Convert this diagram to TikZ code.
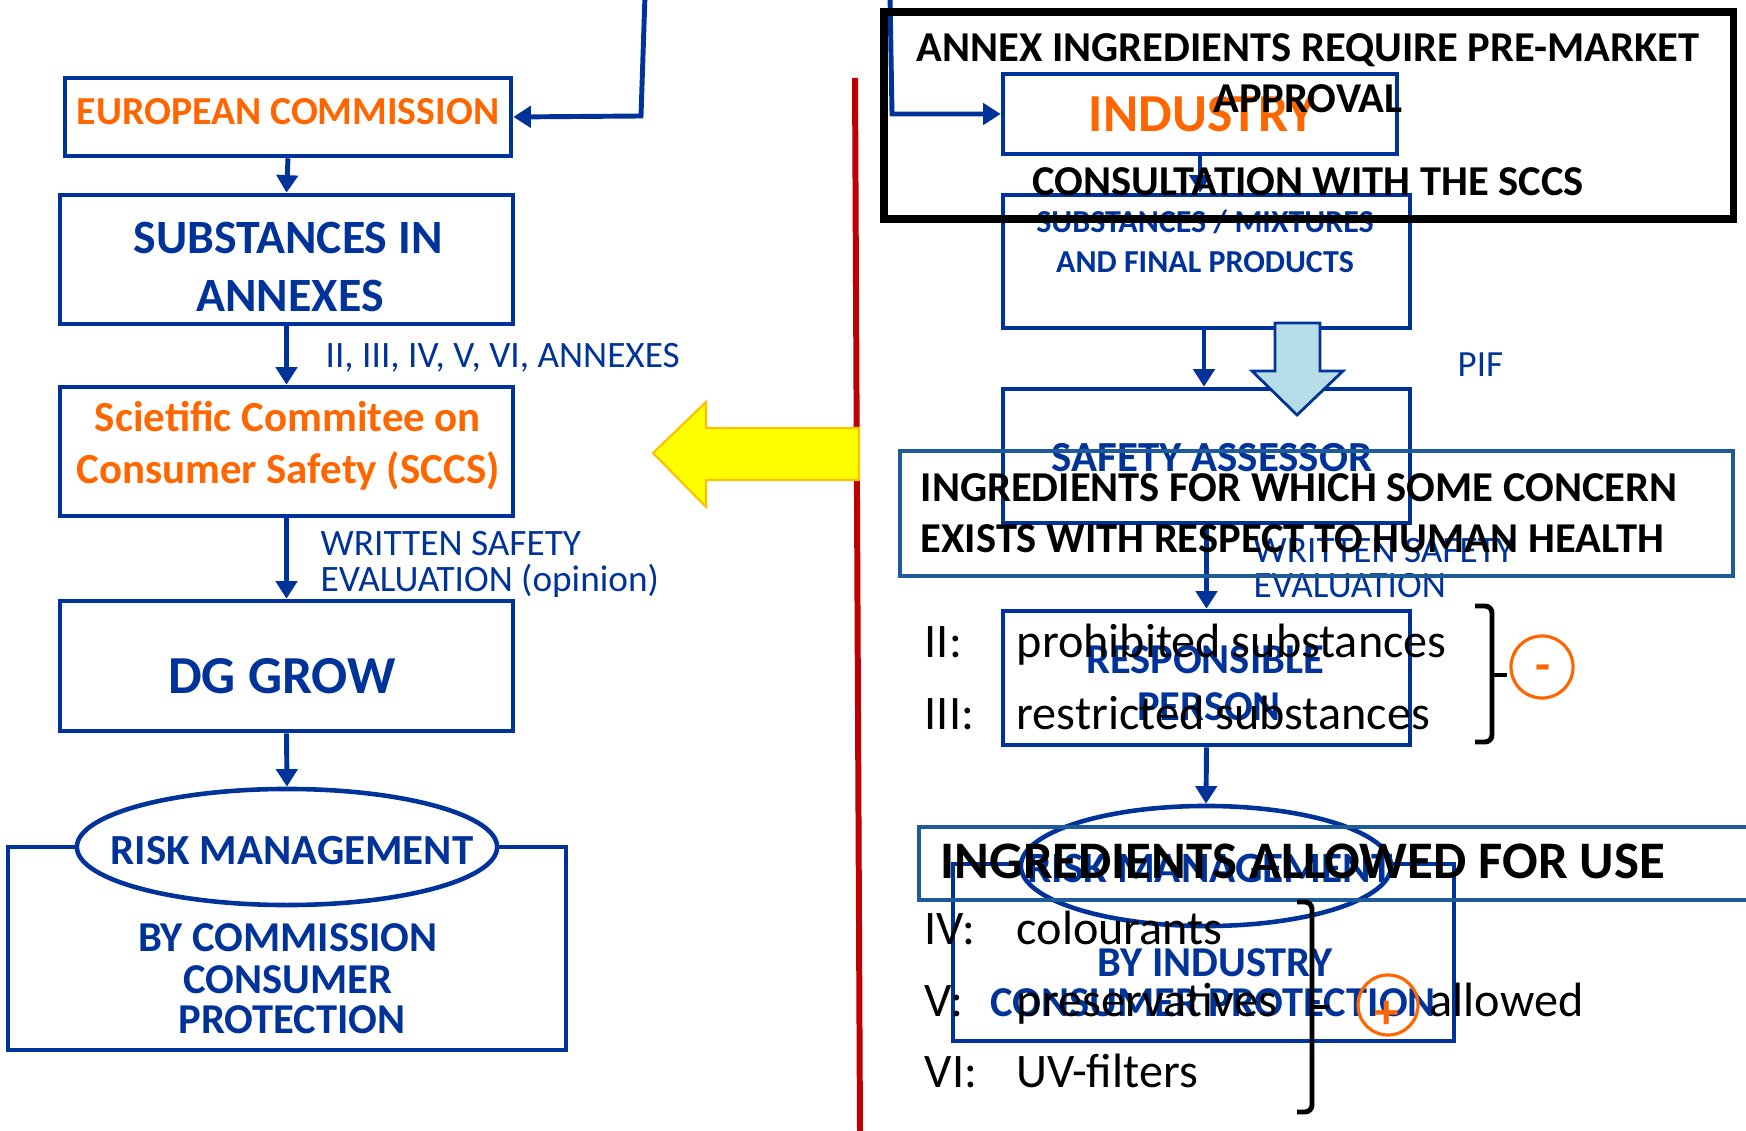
\documentclass[tikz,border=0pt]{standalone}
\usepackage{fontspec}
\setmainfont{Carlito}
\usetikzlibrary{arrows.meta,shapes.geometric,fit}
\definecolor{dkblue}{RGB}{0,51,153}
\definecolor{ecorange}{RGB}{255,102,0}
\definecolor{steel}{RGB}{31,91,153}
\definecolor{divred}{RGB}{192,0,0}
\definecolor{arrowyellow}{RGB}{255,255,0}
\definecolor{arrowgold}{RGB}{255,192,0}
\definecolor{pifblue}{RGB}{183,222,232}
\newcommand{\fsz}[1]{\fontsize{#1}{#1}\selectfont}
\tikzset{
  box/.style={draw=dkblue, line width=1.3pt, inner sep=0pt},
  conn/.style={draw=dkblue, line width=1.4pt, -{Triangle[length=5pt,width=6pt]}},
  txt/.style={text=dkblue, inner sep=0pt, anchor=base},
  ltxt/.style={txt, anchor=base west},
  blk/.style={text=black, inner sep=0pt, anchor=base west},
  sign/.style={circle, draw=ecorange, line width=0.9pt, inner sep=0pt},
  signtxt/.style={text=ecorange, inner sep=0pt, anchor=base, font=\fsz{14}\bfseries},
  brack/.style={line width=1.4pt, rounded corners=2pt}
}
\begin{document}
\begin{tikzpicture}[x=0.01cm, y=-0.01cm]
\useasboundingbox (0,0) rectangle (1746,1131);

% Left-hand column
\node[box, fit={(65,78) (511,156)}] (ec) {};
\node[box, fit={(60,195) (513,324)}] (subst) {};
\node[box, fit={(60,387) (513,516)}] (sccs) {};
\node[box, fit={(60,601) (513,731)}] (dggrow) {};
\node[box, fit={(8,847) (566,1050)}] (commbox) {};
\node[box, ellipse, fill=white, minimum width=4.2cm, minimum height=1.16cm] (rmL) at (287,847) {};

\node[txt, text=ecorange, font=\fsz{11.3}\bfseries] (ectxt) at (288,125) {EUROPEAN COMMISSION};
\node[txt, font=\fsz{13.6}\bfseries] (subA) at (288,254) {SUBSTANCES IN};
\node[txt, font=\fsz{13.6}\bfseries] (subB) at (290,312) {ANNEXES};
\node[ltxt, font=\fsz{10.6}] (annexlist) at (325,368) {II, III, IV, V, VI, ANNEXES};
\node[txt, text=ecorange, font=\fsz{12.2}\bfseries] (sccsA) at (288,432) {Scietific Commitee on};
\node[txt, text=ecorange, font=\fsz{12.2}\bfseries] (sccsB) at (288,484) {Consumer Safety (SCCS)};
\node[ltxt, font=\fsz{10.6}] (wseA) at (320,555) {WRITTEN SAFETY};
\node[ltxt, font=\fsz{10.6}] (wseB) at (320,591) {EVALUATION (opinion)};
\node[txt, font=\fsz{15.2}\bfseries] (dgtxt) at (282,693) {DG GROW};
\node[txt, font=\fsz{12.2}\bfseries] (rmLtxt) at (292,864) {RISK MANAGEMENT};
\node[txt, font=\fsz{12.1}\bfseries] (bycA) at (288,951) {BY COMMISSION};
\node[txt, font=\fsz{12.1}\bfseries] (bycB) at (288,993) {CONSUMER};
\node[txt, font=\fsz{12.1}\bfseries] (bycC) at (292,1033) {PROTECTION};

\coordinate (srcL) at (645,-5);
\coordinate (bendL) at (641,116);
\draw[conn] (srcL) -- (bendL) -- (ec.east);
\draw[conn] (ec.south) -- (subst.north);
\draw[conn] (subst.south) -- (sccs.north);
\draw[conn] (sccs.south) -- (dggrow.north);
\draw[conn] (dggrow.south) -- (rmL.north);

% divider and yellow arrow
\draw[divred, line width=1.7pt] (855,78) -- (860,1135);
\draw[fill=arrowyellow, draw=arrowgold, line width=0.6pt]
  (653,453) -- (706,402) -- (706,428) -- (859,428) -- (859,480) -- (706,480) -- (706,507) -- cycle;

% Right-hand column
\node[box, fit={(1003,74) (1397,154)}] (industry) {};
\node[box, fit={(1003,195) (1410,328)}] (mixtures) {};
\node[box, fit={(1003,389) (1410,523)}] (assessor) {};
\node[box, fit={(1003,611) (1410,745)}] (person) {};
\node[box, fit={(953,864) (1454,1041)}] (indbox) {};
\node[box, ellipse, fill=white, minimum width=3.7cm, minimum height=1.2cm] (rmR) at (1206,866) {};

\node[txt, text=ecorange, font=\fsz{15.2}\bfseries] (indtxt) at (1202,132) {INDUSTRY};
\node[txt, font=\fsz{9.1}\bfseries] (mixA) at (1205,233) {SUBSTANCES / MIXTURES};
\node[txt, font=\fsz{9.1}\bfseries] (mixB) at (1205,273) {AND FINAL PRODUCTS};
\node[ltxt, font=\fsz{10.5}] (piftxt) at (1457,377) {PIF};
\node[txt, font=\fsz{12.2}\bfseries] (asstxt) at (1212,472) {SAFETY ASSESSOR};
\node[ltxt, font=\fsz{10.6}] (wsrA) at (1253,563) {WRITTEN SAFETY};
\node[ltxt, font=\fsz{10.6}] (wsrB) at (1253,597) {EVALUATION};
\node[txt, font=\fsz{12.1}\bfseries] (rpA) at (1205,673) {RESPONSIBLE};
\node[txt, font=\fsz{12.1}\bfseries] (rpB) at (1209,720) {PERSON};
\node[txt, font=\fsz{12.3}\bfseries] (rmRtxt) at (1210,882) {RISK MANAGEMENT};
\node[txt, font=\fsz{12.1}\bfseries] (byiA) at (1215,976) {BY INDUSTRY};
\node[txt, font=\fsz{12.1}\bfseries] (byiB) at (1213,1016) {CONSUMER PROTECTION};

\coordinate (srcR) at (890,-5);
\coordinate (bendR) at (892,114);
\draw[conn] (srcR) -- (bendR) -- (industry.west);
\draw[conn] (industry.south) -- (industry.south |- mixtures.north);
\draw[conn] (mixtures.south -| 1204,0) -- (assessor.north -| 1204,0);
\draw[conn] (assessor.south) -- (person.north);
\draw[conn] (person.south) -- (rmR.north);

% PIF block arrow
\draw[fill=pifblue, draw=dkblue, line width=0.8pt]
  (1275,323) -- (1320,323) -- (1320,371) -- (1343,371) -- (1297,415) -- (1252,371) -- (1275,371) -- cycle;

% overlay boxes
\node[draw=black, line width=2pt, inner sep=0pt, fit={(884,12) (1733,219)}] (annexbox) {};
\node[blk, anchor=base, font=\fsz{12.1}\bfseries] (annA) at (1308,62) {ANNEX INGREDIENTS REQUIRE PRE-MARKET};
\node[blk, anchor=base, font=\fsz{12.1}\bfseries] (annB) at (1308,113) {APPROVAL};
\node[blk, anchor=base, font=\fsz{12.1}\bfseries] (annC) at (1308,196) {CONSULTATION WITH THE SCCS};

\node[draw=steel, line width=1.4pt, inner sep=0pt, fit={(900,451) (1733,576)}] (concernbox) {};
\node[blk, font=\fsz{12.1}\bfseries] (conA) at (920,502) {INGREDIENTS FOR WHICH SOME CONCERN};
\node[blk, font=\fsz{12.1}\bfseries] (conB) at (920,553) {EXISTS WITH RESPECT TO HUMAN HEALTH};

\node[draw=steel, line width=1.4pt, inner sep=0pt, fit={(919,827) (1770,900)}] (allowbox) {};
\node[blk, font=\fsz{15}\bfseries] (allowtxt) at (940,878) {INGREDIENTS ALLOWED FOR USE};

% annex lists
\node[blk, font=\fsz{13.7}] (rII) at (924,657) {II:};
\node[blk, font=\fsz{13.7}] (prohib) at (1016,657) {prohibited substances};
\node[blk, font=\fsz{13.7}] (rIII) at (924,729) {III:};
\node[blk, font=\fsz{13.7}] (restr) at (1016,729) {restricted substances};
\node[blk, font=\fsz{13.7}] (rIV) at (924,944) {IV:};
\node[blk, font=\fsz{13.7}] (colour) at (1016,944) {colourants};
\node[blk, font=\fsz{13.7}] (rV) at (924,1016) {V:};
\node[blk, font=\fsz{13.7}] (preserv) at (1016,1016) {preservatives};
\node[blk, font=\fsz{13.7}] (rVI) at (924,1087) {VI:};
\node[blk, font=\fsz{13.7}] (uvfilt) at (1016,1087) {UV-filters};
\node[blk, font=\fsz{13.7}] (allowed) at (1429,1016) {allowed};

\draw[brack] (1475,606) -- (1492,606) -- (1492,742) -- (1475,742);
\draw[line width=1.4pt] (1492,675) -- (1507,675);
\draw[brack] (1297,902) -- (1312,902) -- (1312,1112) -- (1297,1112);
\draw[line width=1.4pt] (1312,1007) -- (1329,1007);

\node[sign, minimum size=0.62cm] (minus) at (1542,667) {};
\node[signtxt] (minustxt) at (1543,681) {-};
\node[sign, minimum size=0.6cm] (plus) at (1388,1005) {};
\node[signtxt] (plustxt) at (1387,1028) {+};
\end{tikzpicture}
\end{document}
